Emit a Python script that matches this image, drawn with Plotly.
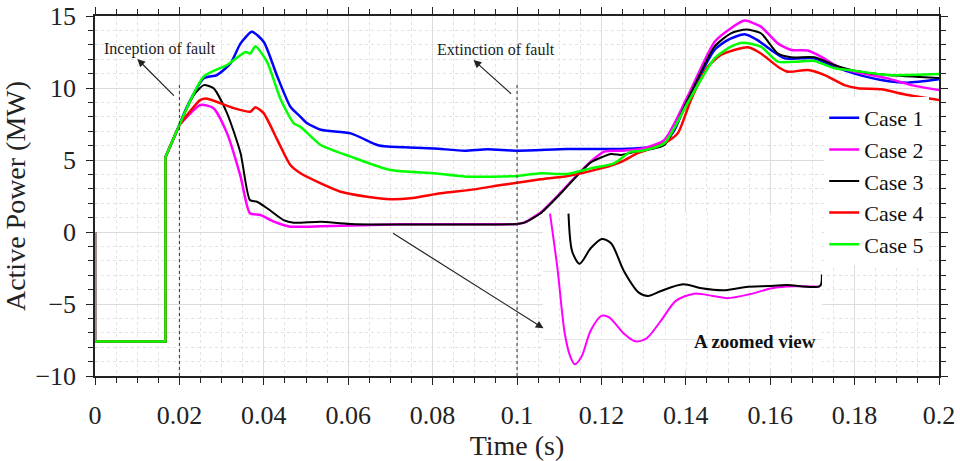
import plotly.graph_objects as go

# ---------------- data ----------------
PRE_T = [0.0, 0.0, 0.0167, 0.0167, 0.02]
PRE_P = [0.0, -7.6, -7.6, 5.2, 7.43]

CASE_NAMES = ["Case 1", "Case 2", "Case 3", "Case 4", "Case 5"]
CASE_COLORS = ["#0000ff", "#ff00ff", "#000000", "#ff0000", "#00ff00"]

case1_t = [0.02, 0.0218, 0.0258, 0.0289, 0.0321, 0.0345, 0.0372, 0.04, 0.0432, 0.0463, 0.0487, 0.0503,
           0.0535, 0.0606, 0.0669, 0.0693, 0.0803, 0.0875, 0.093, 0.1, 0.112, 0.1246, 0.1278, 0.1325,
           0.1349, 0.1373, 0.1404, 0.1436, 0.1468, 0.1499, 0.1539, 0.157, 0.1602, 0.1634, 0.1673,
           0.1705, 0.1752, 0.18, 0.1863, 0.1926, 0.2]
case1_p = [7.43, 8.7, 10.67, 10.9, 11.7, 13.1, 13.9, 13.2, 10.8, 8.7, 8.0, 7.55,
           7.1, 6.85, 6.04, 5.93, 5.8, 5.65, 5.74, 5.65, 5.76, 5.76, 5.8, 5.93,
           6.16, 7.08, 9.17, 11.0, 12.64, 13.33, 13.73, 13.33, 12.64, 12.06, 12.06,
           12.06, 11.48, 11.0, 10.56, 10.37, 10.6]

case2_t = [0.02, 0.025, 0.0281, 0.0313, 0.0345, 0.0367, 0.0392, 0.0424, 0.0463, 0.05, 0.0535, 0.0724,
           0.1, 0.1017, 0.1056, 0.1104, 0.1144, 0.1175, 0.1207, 0.1246, 0.1294, 0.1349, 0.1404,
           0.1468, 0.1507, 0.1539, 0.1578, 0.1618, 0.165, 0.1689, 0.172, 0.176, 0.18, 0.1879,
           0.1934, 0.2]
case2_p = [7.43, 8.82, 8.6, 6.85, 3.84, 1.3, 1.18, 0.72, 0.37, 0.37, 0.4, 0.53,
           0.56, 0.65, 1.35, 2.75, 4.0, 4.9, 5.58, 5.65, 5.76, 6.39, 9.4,
           13.2, 14.15, 14.68, 14.26, 13.1, 12.64, 12.6, 12.18, 11.48, 11.13, 10.67,
           10.2, 9.86]

case3_t = [0.02, 0.0234, 0.0258, 0.0281, 0.0313, 0.0345, 0.0367, 0.0384, 0.0408, 0.0447, 0.0471, 0.0535,
           0.0606, 0.1, 0.1017, 0.1056, 0.1104, 0.1144, 0.1175, 0.1223, 0.1246, 0.127, 0.1349,
           0.1404, 0.1468, 0.1507, 0.1543, 0.1578, 0.1618, 0.165, 0.1705, 0.1752, 0.18, 0.1879, 0.2]
case3_p = [7.43, 9.51, 10.2, 9.98, 8.24, 5.47, 2.22, 2.1, 1.65, 0.83, 0.65, 0.72,
           0.56, 0.56, 0.65, 1.3, 2.69, 3.96, 4.84, 5.42, 5.35, 5.51, 6.04,
           9.17, 12.87, 13.8, 14.07, 13.8, 12.4, 12.13, 12.13, 11.6, 11.2, 10.9, 10.7]

case4_t = [0.02, 0.025, 0.0266, 0.0329, 0.0368, 0.038, 0.04, 0.0432, 0.0463, 0.0487, 0.0535, 0.0582,
           0.0645, 0.07, 0.0748, 0.0819, 0.0898, 0.0962, 0.1, 0.1056, 0.112, 0.1199, 0.1247, 0.1286,
           0.1349, 0.1381, 0.1412, 0.1452, 0.1483, 0.1515, 0.1547, 0.1578, 0.1618, 0.1642, 0.1689,
           0.1729, 0.1776, 0.1808, 0.1863, 0.1926, 0.2]
case4_p = [7.43, 9.17, 9.26, 8.6, 8.35, 8.66, 8.24, 6.4, 4.65, 4.08, 3.38, 2.8,
           2.45, 2.27, 2.34, 2.69, 2.96, 3.26, 3.42, 3.66, 3.89, 4.42, 4.88, 5.47,
           6.16, 6.85, 9.17, 11.48, 12.29, 12.64, 12.83, 12.4, 11.48, 11.13, 11.25,
           10.9, 10.2, 9.98, 9.91, 9.51, 9.17]

case5_t = [0.02, 0.0258, 0.0313, 0.0357, 0.0368, 0.038, 0.0408, 0.044, 0.0471, 0.0487, 0.0535, 0.0606,
           0.07, 0.0803, 0.0883, 0.1, 0.1056, 0.112, 0.1175, 0.123, 0.127, 0.1294, 0.1349, 0.1404,
           0.1468, 0.1507, 0.1535, 0.1578, 0.1618, 0.1665, 0.1705, 0.1752, 0.18, 0.1879, 0.2]
case5_p = [7.43, 10.8, 11.6, 12.5, 12.4, 12.9, 11.8, 9.2, 7.55, 7.3, 6.04, 5.23,
           4.3, 4.08, 3.84, 3.89, 4.08, 4.03, 4.42, 4.77, 5.58, 5.63, 6.16, 8.94,
           12.06, 12.87, 13.15, 12.87, 11.83, 11.83, 11.88, 11.37, 11.2, 10.9, 10.97]

CASE_T = [case1_t, case2_t, case3_t, case4_t, case5_t]
CASE_P = [case1_p, case2_p, case3_p, case4_p, case5_p]
CASE_W = [2.5, 2.5, 2.0, 2.5, 2.5]

# zoomed view (inset, relative units)
zoom2_t = [0.7, 1.44, 2.18, 2.74, 3.18, 3.85, 4.77, 5.88, 6.62, 8.1, 9.21, 10.32, 11.8, 13.28,
           15.12, 16.97, 18.45, 20.67, 22.89, 25.11, 27.69]
zoom2_p = [15.83, 10.33, 3.67, 1.33, 0.57, 1.33, 4.0, 5.5, 5.33, 3.67, 2.9, 3.17, 5.0, 7.0,
           7.73, 7.5, 7.27, 7.67, 8.27, 8.47, 8.43]
zoom3_t = [2.55, 2.92, 3.66, 4.77, 5.88, 6.81, 8.1, 9.58, 10.5, 11.8, 14.01, 15.86, 18.08, 20.3,
           22.52, 24.37, 27.69, 27.88]
zoom3_p = [15.83, 12.0, 10.77, 12.33, 13.27, 12.83, 10.0, 7.83, 7.5, 8.0, 8.67, 8.27, 8.07, 8.4,
           8.5, 8.6, 8.5, 9.67]

FAULT_T = [0.02, 0.1]
FAULT_LINE_TOP = 10.3

X_TICKS = [0, 0.02, 0.04, 0.06, 0.08, 0.1, 0.12, 0.14, 0.16, 0.18, 0.2]
X_LABELS = ["0", "0.02", "0.04", "0.06", "0.08", "0.1", "0.12", "0.14", "0.16", "0.18", "0.2"]
Y_TICKS = [-10, -5, 0, 5, 10, 15]

# ---------------- figure ----------------
SERIF = "Liberation Serif"
fig = go.Figure()

# pre-fault part (shared by all cases), drawn with straight segments
for name, color, w in zip(CASE_NAMES, CASE_COLORS, CASE_W):
    fig.add_trace(go.Scatter(x=PRE_T, y=PRE_P, mode="lines", legendgroup=name, showlegend=False,
                             line=dict(color=color, width=w), hoverinfo="skip"))

for name, color, t, p, w in zip(CASE_NAMES, CASE_COLORS, CASE_T, CASE_P, CASE_W):
    fig.add_trace(go.Scatter(x=t, y=p, mode="lines", name=name, legendgroup=name,
                             line=dict(color=color, width=w, shape="spline", smoothing=0.6)))

fig.add_trace(go.Scatter(x=zoom2_t, y=zoom2_p, mode="lines", xaxis="x2", yaxis="y2",
                         line=dict(color="#ff00ff", width=2, shape="spline", smoothing=0.8),
                         showlegend=False, hoverinfo="skip"))
fig.add_trace(go.Scatter(x=zoom3_t, y=zoom3_p, mode="lines", xaxis="x2", yaxis="y2",
                         line=dict(color="#000000", width=2, shape="spline", smoothing=0.8),
                         showlegend=False, hoverinfo="skip"))

axis_common = dict(
    showline=True, linecolor="#222", linewidth=1.5, mirror="allticks",
    ticks="outside", ticklen=7, tickwidth=1.2, tickcolor="#222",
    showgrid=True, gridcolor="#dcdcdc", gridwidth=1, zeroline=False, automargin=False,
    tickfont=dict(family=SERIF, size=26, color="#222"),
)

fig.update_layout(
    width=960, height=461,
    margin=dict(l=95, r=21, t=16, b=85),
    paper_bgcolor="white", plot_bgcolor="white",
    xaxis=dict(**axis_common, range=[0, 0.2], tickvals=X_TICKS, ticktext=X_LABELS,
               ticklabelstandoff=8,
               minor=dict(dtick=0.005, tick0=0, ticks="outside", ticklen=5, tickcolor="#222",
                          showgrid=True, gridcolor="#e2e2e2", griddash="dot"),
               title=dict(text="Time (s)", font=dict(family=SERIF, size=28, color="#222"),
                          standoff=6)),
    yaxis=dict(**axis_common, range=[-10, 15], tickvals=Y_TICKS, ticklabelstandoff=5,
               minor=dict(dtick=1, tick0=0, ticks="outside", ticklen=5, tickcolor="#222",
                          showgrid=True, gridcolor="#e2e2e2", griddash="dot"),
               title=dict(text="Active Power (MW)", font=dict(family=SERIF, size=28, color="#222"),
                          standoff=2)),
    xaxis2=dict(domain=[0.5308, 0.8614], range=[0, 27.9], anchor="y2", automargin=False,
                showticklabels=False, ticks="", showline=False, zeroline=False,
                showgrid=True, tick0=1.664, dtick=2.108, gridcolor="#e4e4e4", griddash="dot"),
    yaxis2=dict(domain=[0.0167, 0.4556], range=[0, 16], anchor="x2", automargin=False,
                showticklabels=False, ticks="", showline=False, zeroline=False,
                showgrid=True, tick0=3.07, dtick=6.86, gridcolor="#e6e6e6"),
    legend=dict(x=0.864, y=0.775, xanchor="left", yanchor="top",
                bgcolor="white", borderwidth=0, tracegroupgap=0,
                font=dict(family=SERIF, size=22, color="#111")),
    showlegend=True,
)

# white background of the zoomed view (covers main grid)
fig.add_shape(type="rect", xref="x2 domain", yref="y2 domain", x0=0, x1=1, y0=0, y1=1,
              fillcolor="white", line=dict(width=0), layer="below")

for ft in FAULT_T:
    fig.add_shape(type="line", xref="x", yref="y", x0=ft, x1=ft, y0=-10, y1=FAULT_LINE_TOP,
                  line=dict(color="#333", width=1, dash="dot"), layer="above")

ann_font = dict(family=SERIF, size=16, color="#222")
fig.add_annotation(x=0.01537, y=12.71, text="Inception of fault", showarrow=False, font=ann_font)
fig.add_annotation(x=0.095, y=12.64, text="Extinction of fault", showarrow=False, font=ann_font)
fig.add_annotation(x=0.01004, y=12.01, ax=38, ay=38, text="", showarrow=True,
                   arrowhead=2, arrowsize=1.3, arrowwidth=1.2, arrowcolor="#222")
fig.add_annotation(x=0.0897, y=11.94, ax=39, ay=35, text="", showarrow=True,
                   arrowhead=2, arrowsize=1.3, arrowwidth=1.2, arrowcolor="#222")
fig.add_annotation(x=0.10629, y=-6.69, ax=-152, ay=-96, text="", showarrow=True,
                   arrowhead=2, arrowsize=1.3, arrowwidth=1.2, arrowcolor="#222")
fig.add_annotation(x=0.1565, y=-7.62, text="<b>A zoomed view</b>", showarrow=False,
                   font=dict(family=SERIF, size=19, color="#111"))

fig.write_html("out.html")
